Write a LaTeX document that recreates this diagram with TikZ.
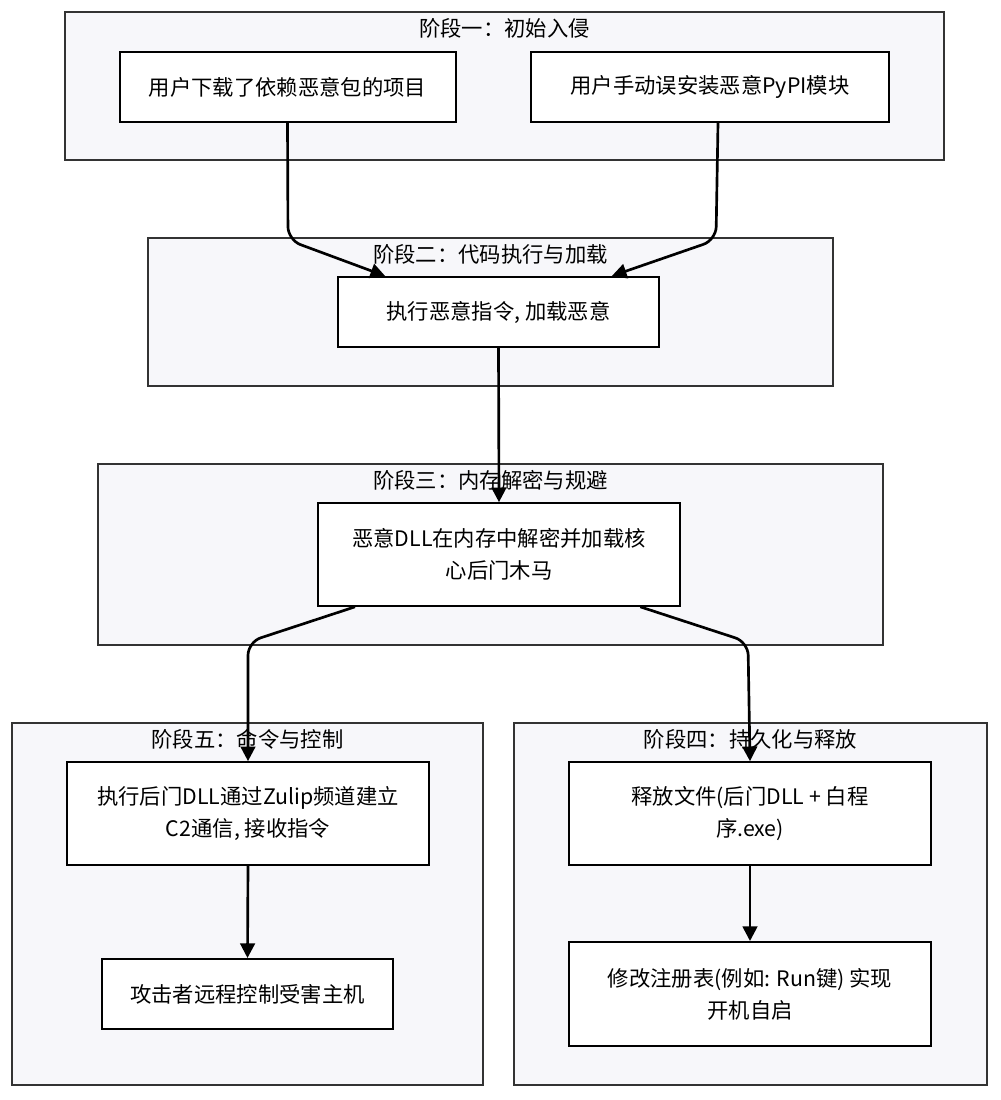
\documentclass[tikz,border=0pt]{standalone}
\usepackage{fontspec}
\setmainfont{Noto Sans CJK SC}
\usetikzlibrary{arrows.meta}
\definecolor{stagefill}{HTML}{F7F7FA}
\definecolor{stageline}{HTML}{333333}
\newcommand{\stagebox}[5]{%
  \draw[stage] (#1,#2) rectangle (#3,#4);
  \node[stagetitle] at ({(#1+#3)/2},#2+16) {#5};}
\begin{document}
\begin{tikzpicture}[x=0.75pt, y=-0.75pt, >={Triangle[length=11pt,width=11pt]},
  stage/.style={fill=stagefill, draw=stageline, line width=1.5pt},
  stagetitle/.style={font=\fontsize{16}{18}\selectfont},
  stepbox/.style={draw=black, fill=white, line width=1.5pt, align=center,
    font=\fontsize{16}{24}\selectfont, inner sep=0pt},
  flow/.style={->, line width=2pt, rounded corners=10pt}]
        \useasboundingbox (0,0) rectangle (1000,1100);

        % stages
        \stagebox{65}{12}{944}{160}{阶段一：初始入侵}
        \stagebox{148}{238}{833}{386}{阶段二：代码执行与加载}
        \stagebox{98}{464}{883}{645}{阶段三：内存解密与规避}
        \stagebox{12}{723}{483}{1085}{阶段五：命令与控制}
        \stagebox{514}{723}{987}{1085}{阶段四：持久化与释放}

        % steps
        \node[stepbox, minimum width=252pt, minimum height=52.5pt] (download) at (287.5,87) {用户下载了依赖恶意包的项目};
        \node[stepbox, minimum width=268.5pt, minimum height=52.5pt] (install) at (710,87) {用户手动误安装恶意PyPI模块};
        \node[stepbox, minimum width=241pt, minimum height=52.5pt] (exec) at (498.5,312) {执行恶意指令, 加载恶意};
        \node[stepbox, minimum width=271.5pt, minimum height=77pt] (decrypt) at (499,554.5) {恶意DLL在内存中解密并加载核\\心后门木马};
        \node[stepbox, minimum width=271.5pt, minimum height=77pt] (c2) at (248,813.5) {执行后门DLL通过Zulip频道建立\\C2通信, 接收指令};
        \node[stepbox, minimum width=218pt, minimum height=52.5pt] (control) at (247.5,994) {攻击者远程控制受害主机};
        \node[stepbox, minimum width=271.5pt, minimum height=77pt] (drop) at (750,813.5) {释放文件(后门DLL + 白程\\序.exe)};
        \node[stepbox, minimum width=271.5pt, minimum height=78pt] (registry) at (750,994) {修改注册表(例如: Run键) 实现\\开机自启};

        % bends
        \coordinate (bendA) at (288,240);
        \coordinate (bendB) at (716,240);
        \coordinate (bendC) at (248,642);
        \coordinate (bendD) at (748,642);

        % flow
        \draw[flow] (download.south) -- (bendA) -- ([xshift=-85pt]exec.north);
        \draw[flow] ([xshift=6pt]install.south) -- (bendB) -- ([xshift=85pt]exec.north);
        \draw[flow] (exec.south) -- (decrypt.north);
        \draw[flow] ([xshift=-108pt]decrypt.south) -- (bendC) -- (c2.north);
        \draw[flow] ([xshift=106pt]decrypt.south) -- (bendD) -- (drop.north);
        \draw[flow] (c2.south) -- (control.north);
        \draw[flow] (drop.south) -- (registry.north);
\end{tikzpicture}
\end{document}
